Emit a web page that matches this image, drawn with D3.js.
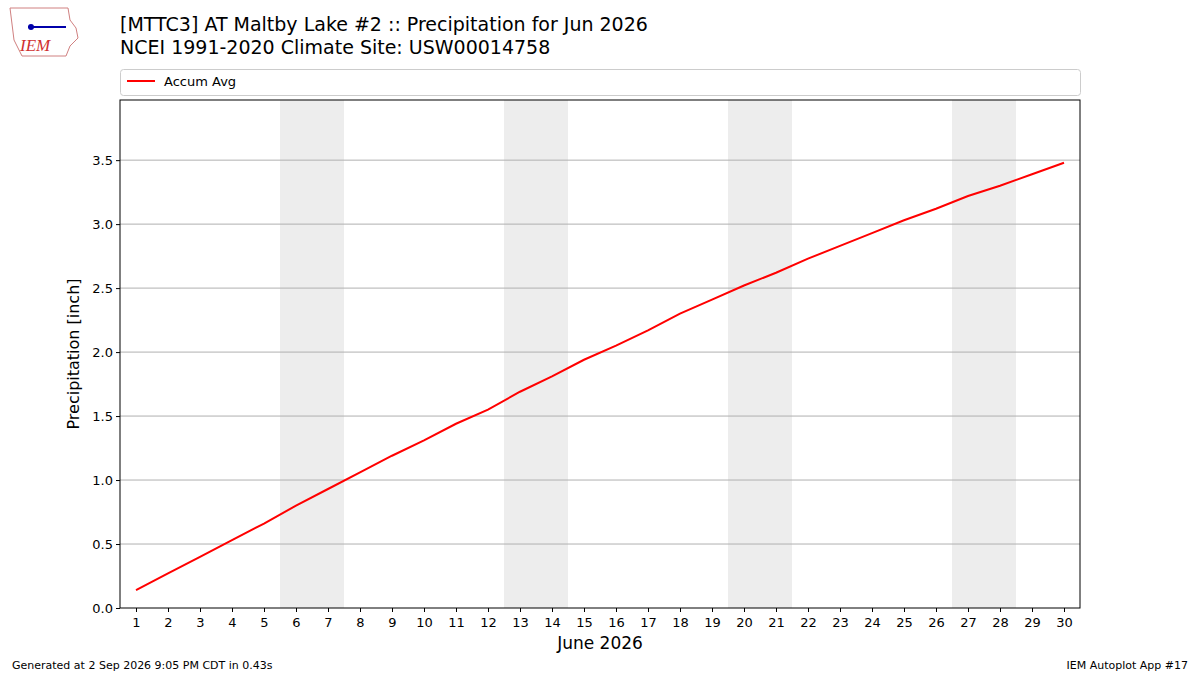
<!DOCTYPE html>
<html><head><meta charset="utf-8">
<script src="https://cdn.jsdelivr.net/npm/d3@7"></script>
<style>body{margin:0;background:#fff}svg{font-family:"DejaVu Sans",sans-serif}</style>
</head><body><svg id="c" width="1200" height="675"></svg>
<script>
const days = d3.range(1,31);
const accumAvg = [0.14,0.27,0.40,0.53,0.66,0.80,0.93,1.06,1.19,1.31,1.44,1.55,1.69,1.81,1.94,2.05,2.17,2.30,2.41,2.52,2.62,2.73,2.83,2.93,3.03,3.12,3.22,3.30,3.39,3.48];
const weekends = [[5.5,7.5],[12.5,14.5],[19.5,21.5],[26.5,28.5]];
const yTicks = [0,0.5,1.0,1.5,2.0,2.5,3.0,3.5];

const svg = d3.select("#c");
const L=120,R=1080,T=100,B=608;
const x = d3.scaleLinear().domain([0.5,30.5]).range([L,R]);
const y = d3.scaleLinear().domain([0,3.97]).range([B,T]);

weekends.forEach(w=>svg.append("rect").attr("x",x(w[0])).attr("y",T).attr("width",x(w[1])-x(w[0])).attr("height",B-T).attr("fill","#ededed"));
yTicks.slice(1).forEach(v=>svg.append("line").attr("x1",L).attr("x2",R).attr("y1",y(v)).attr("y2",y(v)).attr("stroke","#b0b0b0").attr("stroke-width",1));

svg.append("path").datum(accumAvg).attr("fill","none").attr("stroke","red").attr("stroke-width",2)
  .attr("d",d3.line().x((d,i)=>x(days[i])).y(d=>y(d)));

svg.append("rect").attr("x",L).attr("y",T).attr("width",R-L).attr("height",B-T).attr("fill","none").attr("stroke","#000");

const xa = svg.append("g").attr("transform",`translate(0,${B})`).call(d3.axisBottom(x).tickValues(days).tickFormat(d3.format("d")).tickSizeOuter(0).tickSize(4));
const ya = svg.append("g").attr("transform",`translate(${L},0)`).call(d3.axisLeft(y).tickValues(yTicks).tickFormat(d3.format(".1f")).tickSizeOuter(0).tickSize(4));
[xa,ya].forEach(a=>{a.select(".domain").remove();a.selectAll("text").attr("font-size",13).attr("fill","#000").attr("font-family","DejaVu Sans");});
xa.selectAll("text").attr("dy","0.95em");

svg.append("text").attr("x",600).attr("y",649).attr("text-anchor","middle").attr("font-size",17).text("June 2026");
svg.append("text").attr("transform","translate(79,354) rotate(-90)").attr("text-anchor","middle").attr("font-size",16).text("Precipitation [inch]");

svg.append("text").attr("x",120).attr("y",31).attr("font-size",19).text("[MTTC3] AT Maltby Lake #2 :: Precipitation for Jun 2026");
svg.append("text").attr("x",120).attr("y",54).attr("font-size",19).text("NCEI 1991-2020 Climate Site: USW00014758");

svg.append("rect").attr("x",120.5).attr("y",69.5).attr("width",960).attr("height",26).attr("rx",3).attr("fill","#fff").attr("stroke","#ccc");
svg.append("line").attr("x1",127).attr("x2",155).attr("y1",81).attr("y2",81).attr("stroke","red").attr("stroke-width",2);
svg.append("text").attr("x",164).attr("y",86).attr("font-size",13).text("Accum Avg");

svg.append("text").attr("x",12).attr("y",669).attr("font-size",11).text("Generated at 2 Sep 2026 9:05 PM CDT in 0.43s");
svg.append("text").attr("x",1188).attr("y",669).attr("font-size",11).attr("text-anchor","end").text("IEM Autoplot App #17");

// logo
svg.append("path").attr("d","M10,8 L68,8 L70,20 L76,28 L78,38 L70,46 L66,56 L22,56 L14,40 L12,24 Z").attr("fill","#fff").attr("stroke","#d08080");
svg.append("line").attr("x1",28).attr("x2",66).attr("y1",27).attr("y2",27).attr("stroke","#0000aa").attr("stroke-width",2);
svg.append("circle").attr("cx",31).attr("cy",27).attr("r",3).attr("fill","#0000aa");
svg.append("text").attr("x",20).attr("y",51).attr("font-size",17).attr("font-style","italic").attr("font-family","Liberation Serif").attr("fill","#d03030").text("IEM");
</script></body></html>
